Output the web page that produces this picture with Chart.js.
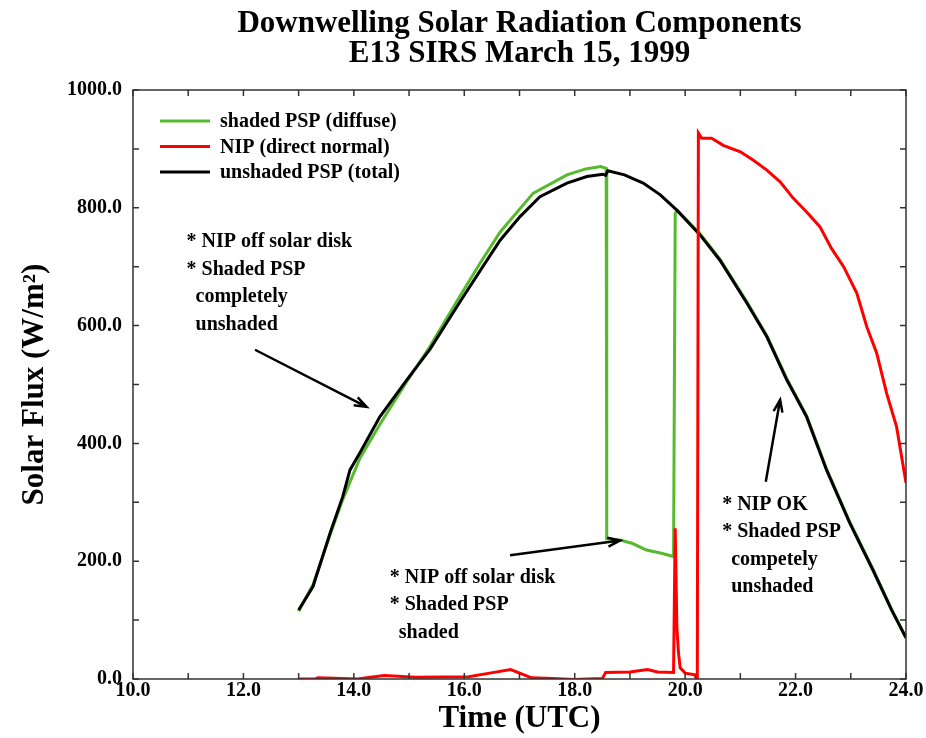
<!DOCTYPE html>
<html>
<head>
<meta charset="utf-8">
<script src="https://cdn.jsdelivr.net/npm/chart.js@4.4.1/dist/chart.umd.min.js"></script>
<style>
  body { margin: 0; background: #fff; }
  canvas { display: block; }
</style>
</head>
<body>
<canvas id="myChart" width="926" height="738"></canvas>
<script>
// values (hours UTC, W/m2)
var timeTotal = [13.0, 13.26, 13.57, 13.8, 13.93, 14.11, 14.47, 14.96, 15.38, 15.92, 16.3, 16.65, 17.01, 17.37, 17.86, 18.22, 18.51, 18.56, 18.6, 18.9, 19.24, 19.55, 19.85, 20.27, 20.63, 21.12, 21.48, 21.84, 22.2, 22.56, 22.98, 23.4, 23.74, 24.0];
var fluxTotal = [117, 157, 248, 310, 355, 384, 445, 508, 560, 640, 695, 745, 785, 819, 842, 853, 857, 855, 863, 856, 842, 822, 796, 754, 711, 638, 581, 508, 445, 355, 265, 185, 117, 70];

var timeDiffuse = [13.0, 13.26, 13.57, 13.8, 14.11, 14.47, 14.96, 15.38, 15.92, 16.3, 16.65, 17.25, 17.86, 18.2, 18.47, 18.57, 18.58, 18.82, 19.05, 19.3, 19.55, 19.79, 19.82, 19.85, 20.27, 20.63, 21.12, 21.48, 21.84, 22.2, 22.56, 22.98, 23.4, 23.74, 24.0];
var fluxDiffuse = [115, 160, 245, 305, 375, 432, 505, 565, 650, 708, 759, 825, 856, 866, 870, 867, 238, 236, 230, 219, 214, 208, 790, 796, 756, 713, 640, 583, 510, 447, 357, 267, 187, 118, 70];

var timeDirect = [13.0, 13.3, 13.35, 14.07, 14.3, 14.55, 15.12, 16.08, 16.46, 16.84, 17.22, 17.6, 17.99, 18.5, 18.56, 19.0, 19.32, 19.5, 19.79, 19.82, 19.85, 19.88, 19.91, 20.0, 20.18, 20.22, 20.24, 20.3, 20.48, 20.69, 21.0, 21.23, 21.48, 21.72, 21.96, 22.2, 22.44, 22.65, 22.87, 23.11, 23.29, 23.47, 23.65, 23.83, 24.0];
var fluxDirect = [0, 0, 2, 0, 3, 6, 3, 4, 10, 16, 2, 1, -1, 1, 11, 12, 16, 12, 11, 256, 88, 44, 19, 10, 7, -7, 927, 918, 918, 906, 895, 881, 864, 844, 816, 793, 768, 731, 700, 655, 598, 553, 485, 428, 333];

var seriesNames = ['shaded PSP (diffuse)', 'NIP (direct normal)', 'unshaded PSP (total)'];
var titleLines = ['Downwelling Solar Radiation Components', 'E13 SIRS March 15, 1999'];

var notes = [
    { x: 10.97, y: 733, lines: ['* NIP off solar disk', '* Shaded PSP', 'completely', 'unshaded'] },
    { x: 14.65, y: 163, lines: ['* NIP off solar disk', '* Shaded PSP', 'shaded'] },
    { x: 20.67, y: 287, lines: ['* NIP OK', '* Shaded PSP', 'competely', 'unshaded'] }
];
var arrows = [
    { x1: 12.21, y1: 559, x2: 14.23, y2: 462 },
    { x1: 16.83, y1: 210, x2: 18.82, y2: 235 },
    { x1: 21.46, y1: 335, x2: 21.72, y2: 474 }
];

var serif = "'Liberation Serif', 'Times New Roman', serif";
var green = '#56bb2c', red = '#ff0000', black = '#000000';

function toPoints(xs, ys) {
    return xs.map(function (x, i) { return { x: x, y: ys[i] }; });
}

// title, box frame with inward ticks, legend and notes
var extras = {
    id: 'extras',
    afterDraw: function (chart) {
        var ctx = chart.ctx, a = chart.chartArea;
        var xs = chart.scales.x, ys = chart.scales.y;
        ctx.save();

        // title
        ctx.fillStyle = '#000';
        ctx.font = 'bold 31px ' + serif;
        ctx.textAlign = 'center';
        ctx.textBaseline = 'alphabetic';
        var cx = (a.left + a.right) / 2;
        ctx.fillText(titleLines[0], cx, 32);
        ctx.fillText(titleLines[1], cx, 62);

        // frame + ticks
        ctx.strokeStyle = '#333';
        ctx.lineWidth = 1.5;
        ctx.strokeRect(a.left, a.top, a.right - a.left, a.bottom - a.top);
        ctx.beginPath();
        for (var h = 10; h <= 24; h++) {
            var px = xs.getPixelForValue(h);
            ctx.moveTo(px, a.bottom); ctx.lineTo(px, a.bottom - 6);
            ctx.moveTo(px, a.top); ctx.lineTo(px, a.top + 6);
        }
        for (var v = 0; v <= 1000; v += 100) {
            var py = ys.getPixelForValue(v);
            ctx.moveTo(a.left, py); ctx.lineTo(a.left + 6, py);
            ctx.moveTo(a.right, py); ctx.lineTo(a.right - 6, py);
        }
        ctx.stroke();

        // legend
        var colors = [green, red, black];
        ctx.font = 'bold 20px ' + serif;
        ctx.textAlign = 'left';
        ctx.textBaseline = 'middle';
        for (var i = 0; i < seriesNames.length; i++) {
            var ly = a.top + 31 + i * 25.5;
            ctx.strokeStyle = colors[i];
            ctx.lineWidth = 3;
            ctx.beginPath();
            ctx.moveTo(a.left + 27, ly); ctx.lineTo(a.left + 77, ly);
            ctx.stroke();
            ctx.fillStyle = '#000';
            ctx.fillText(seriesNames[i], a.left + 87, ly + 1);
        }

        // notes
        ctx.textBaseline = 'alphabetic';
        notes.forEach(function (n) {
            var nx = xs.getPixelForValue(n.x), ny = ys.getPixelForValue(n.y);
            n.lines.forEach(function (t, k) {
                var indent = t.charAt(0) === '*' ? 0 : 9;
                ctx.fillText(t, nx + indent, ny + k * 27.5);
            });
        });

        // arrows
        ctx.strokeStyle = '#000';
        ctx.lineWidth = 2.5;
        arrows.forEach(function (r) {
            var x1 = xs.getPixelForValue(r.x1), y1 = ys.getPixelForValue(r.y1);
            var x2 = xs.getPixelForValue(r.x2), y2 = ys.getPixelForValue(r.y2);
            var ang = Math.atan2(y2 - y1, x2 - x1);
            ctx.beginPath();
            ctx.moveTo(x1, y1); ctx.lineTo(x2, y2);
            ctx.moveTo(x2 - 13 * Math.cos(ang - 0.35), y2 - 13 * Math.sin(ang - 0.35));
            ctx.lineTo(x2, y2);
            ctx.lineTo(x2 - 13 * Math.cos(ang + 0.35), y2 - 13 * Math.sin(ang + 0.35));
            ctx.stroke();
        });

        ctx.restore();
    }
};

var ctx = document.getElementById('myChart');
var myChart = new Chart(ctx, {
    type: 'line',
    data: {
        datasets: [{
            label: seriesNames[1],
            data: toPoints(timeDirect, fluxDirect),
            borderColor: red,
            borderWidth: 3,
            order: 0
        }, {
            label: seriesNames[2],
            data: toPoints(timeTotal, fluxTotal),
            borderColor: black,
            borderWidth: 3,
            order: 1
        }, {
            label: seriesNames[0],
            data: toPoints(timeDiffuse, fluxDiffuse),
            borderColor: green,
            borderWidth: 3,
            order: 2
        }]
    },
    options: {
        responsive: false,
        animation: false,
        devicePixelRatio: 1,
        elements: { point: { radius: 0 }, line: { tension: 0 } },
        layout: { padding: { top: 90, right: 20, left: 0, bottom: 0 } },
        plugins: {
            legend: { display: false },
            tooltip: { enabled: false }
        },
        scales: {
            x: {
                type: 'linear',
                min: 10,
                max: 24,
                afterFit: function (s) { s.height = 59; },
                grid: { display: false, drawTicks: false },
                border: { display: false },
                ticks: {
                    stepSize: 2,
                    padding: 0,
                    color: '#000',
                    font: { family: serif, size: 20, weight: 'bold', lineHeight: 1.2 },
                    callback: function (v) { return v.toFixed(1); }
                },
                title: {
                    display: true,
                    text: 'Time (UTC)',
                    color: '#000',
                    font: { family: serif, size: 31, weight: 'bold', lineHeight: 1.2 },
                    padding: { top: 1, bottom: 0 }
                }
            },
            y: {
                min: 0,
                max: 1000,
                afterFit: function (s) { s.width = 133; },
                grid: { display: false, drawTicks: false },
                border: { display: false },
                ticks: {
                    stepSize: 200,
                    padding: 11,
                    color: '#000',
                    font: { family: serif, size: 20, weight: 'bold' },
                    callback: function (v) { return v.toFixed(1); }
                },
                title: {
                    display: true,
                    text: 'Solar Flux (W/m\u00b2)',
                    color: '#000',
                    font: { family: serif, size: 31, weight: 'bold', lineHeight: 1.2 },
                    padding: { top: 16, bottom: 0 }
                }
            }
        }
    },
    plugins: [extras]
});
</script>
</body>
</html>
